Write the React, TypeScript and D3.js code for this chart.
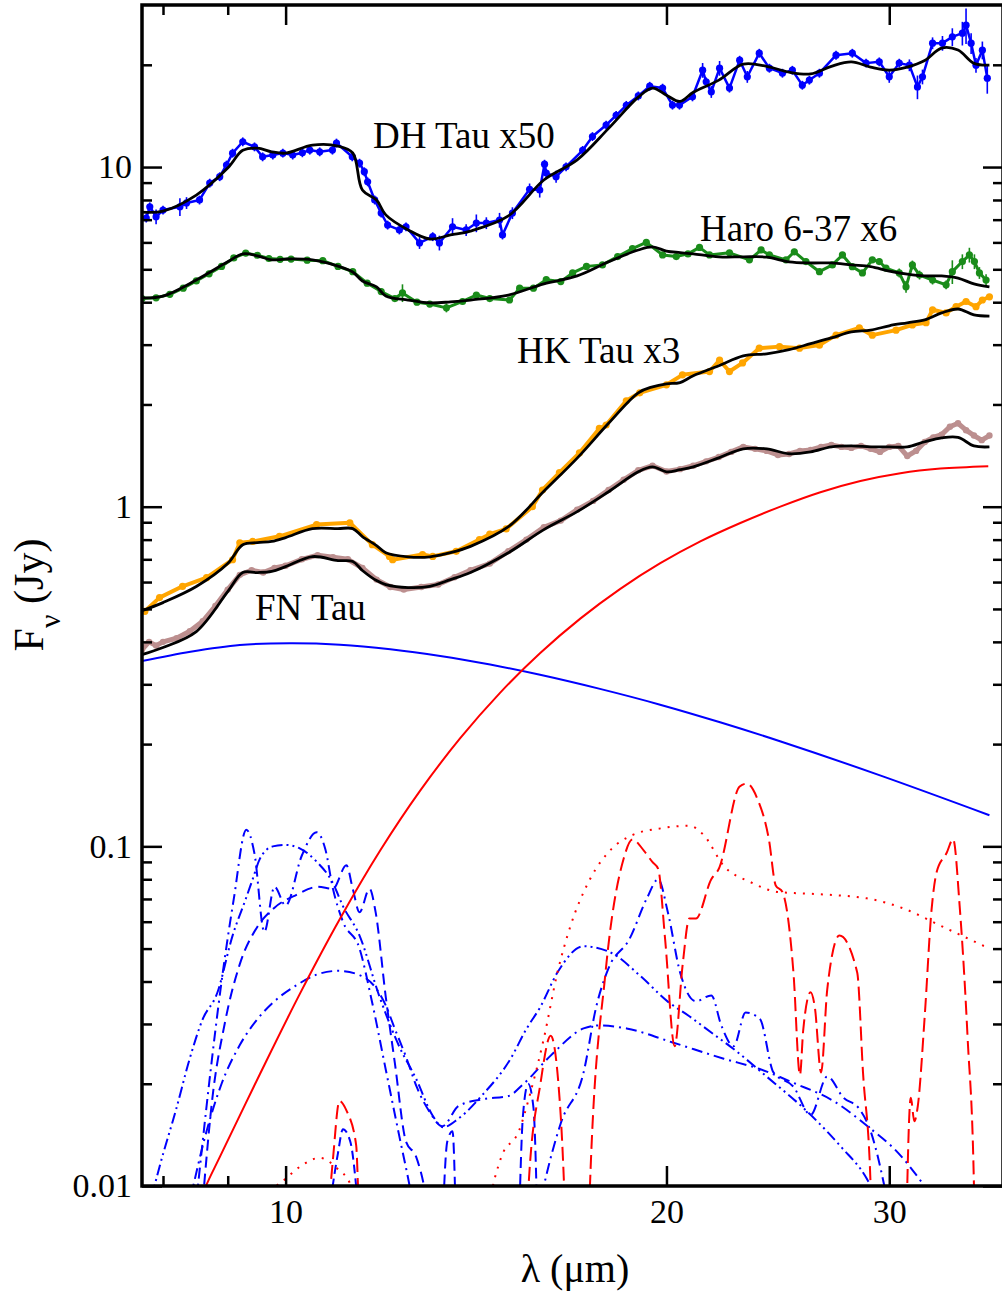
import React, { useRef, useEffect } from 'react'
import * as d3 from 'd3'

// wavelength grid (um) shared by the four model fits
const modelWave = [7.7, 8, 8.5, 9, 9.25, 9.5, 9.75, 10, 10.5, 11, 11.3, 11.5, 11.8, 12, 12.5, 13, 13.5, 14, 15, 16, 17, 18, 19, 19.5, 20, 20.5, 21, 22, 23, 24, 25, 26, 27, 28, 29, 30, 31, 32, 33, 34, 35, 36]

const dhModel = [7.37, 7.42, 8.27, 9.93, 11.2, 11.37, 11.09, 10.99, 11.6, 11.53, 11.0, 8.56, 8.0, 7.23, 6.53, 6.14, 6.31, 6.48, 7.18, 9.16, 10.5, 13.0, 16.06, 17.08, 16.28, 15.6, 16.6, 18.03, 20.09, 19.8, 19.03, 18.8, 19.8, 20.4, 19.7, 19.3, 19.7, 20.6, 22.4, 22.1, 20.2, 19.95]
const haroModel = [4.12, 4.17, 4.65, 5.26, 5.55, 5.48, 5.33, 5.36, 5.33, 5.11, 4.91, 4.62, 4.44, 4.17, 4.06, 3.98, 4.01, 4.06, 4.2, 4.53, 4.78, 5.26, 5.7, 5.82, 5.66, 5.6, 5.55, 5.44, 5.44, 5.43, 5.26, 5.22, 5.22, 5.15, 5.09, 4.94, 4.84, 4.78, 4.78, 4.71, 4.53, 4.44]
const hkModel = [0.494, 0.522, 0.582, 0.68, 0.773, 0.784, 0.79, 0.811, 0.862, 0.862, 0.862, 0.817, 0.768, 0.732, 0.712, 0.712, 0.732, 0.764, 0.873, 1.11, 1.39, 1.76, 2.164, 2.254, 2.3, 2.32, 2.43, 2.6, 2.78, 2.82, 2.9, 3.02, 3.14, 3.27, 3.31, 3.41, 3.48, 3.55, 3.72, 3.82, 3.67, 3.64]
const fnModel = [0.367, 0.385, 0.429, 0.562, 0.64, 0.64, 0.645, 0.666, 0.713, 0.694, 0.69, 0.649, 0.606, 0.59, 0.578, 0.583, 0.61, 0.64, 0.732, 0.856, 0.967, 1.107, 1.267, 1.31, 1.267, 1.285, 1.31, 1.393, 1.481, 1.48, 1.432, 1.45, 1.5, 1.51, 1.5, 1.5, 1.5, 1.553, 1.595, 1.6, 1.51, 1.5]

// observed spectra: [wavelength, flux, fractional error]
const dhObs = [
  [7.76, 7.08, 0.03], [7.81, 7.64, 0.03], [7.9, 7.14, 0.05], [8.0, 7.47, 0.03], [8.25, 7.64, 0.06], [8.35, 7.84, 0.04],
  [8.55, 8.0, 0.03], [8.71, 8.97, 0.03], [8.87, 9.37, 0.03], [8.98, 10.14, 0.03], [9.08, 10.99, 0.03], [9.25, 11.87, 0.03],
  [9.45, 11.47, 0.03], [9.59, 10.72, 0.03], [9.77, 10.85, 0.03], [9.95, 10.99, 0.03], [10.13, 10.85, 0.03], [10.31, 11.02, 0.03],
  [10.45, 11.22, 0.03], [10.64, 11.09, 0.03], [10.89, 11.22, 0.03], [10.97, 11.77, 0.03], [11.29, 10.72, 0.03], [11.44, 10.27, 0.03],
  [11.54, 9.69, 0.03], [11.61, 9.05, 0.03], [11.76, 8.0, 0.03], [11.9, 7.32, 0.03], [12.04, 6.75, 0.03], [12.3, 6.53, 0.03],
  [12.45, 6.67, 0.03], [12.76, 5.98, 0.04], [13.07, 6.24, 0.03], [13.23, 5.98, 0.05], [13.55, 6.67, 0.06], [13.89, 6.53, 0.04],
  [14.15, 6.84, 0.06], [14.41, 6.84, 0.04], [14.76, 6.98, 0.05], [14.84, 6.31, 0.03], [15.11, 7.32, 0.04], [15.59, 8.6, 0.04],
  [15.88, 8.56, 0.05], [16.02, 10.2, 0.03], [16.07, 9.6, 0.03], [16.36, 9.37, 0.04], [16.66, 10.02, 0.03], [17.17, 11.2, 0.03],
  [17.48, 12.3, 0.03], [17.92, 13.3, 0.03], [18.25, 14.2, 0.03], [18.59, 15.2, 0.03], [19.0, 16.2, 0.03], [19.4, 17.3, 0.03],
  [19.86, 17.08, 0.03], [20.22, 15.22, 0.03], [20.48, 15.22, 0.03], [20.97, 16.1, 0.03], [21.36, 19.28, 0.05], [21.5, 17.82, 0.03],
  [21.7, 16.65, 0.04], [22.03, 19.55, 0.05], [22.43, 17.08, 0.03], [22.85, 20.64, 0.03], [23.17, 18.44, 0.04], [23.68, 21.64, 0.03],
  [24.12, 19.55, 0.03], [24.7, 18.9, 0.03], [25.15, 19.28, 0.03], [25.61, 17.42, 0.03], [25.94, 18.03, 0.03], [26.42, 18.9, 0.03],
  [27.23, 21.35, 0.03], [28.05, 21.64, 0.03], [28.76, 20.23, 0.03], [29.46, 20.41, 0.03], [30.0, 18.44, 0.04], [30.55, 20.23, 0.03],
  [31.12, 19.95, 0.04], [31.58, 17.22, 0.08], [31.87, 18.44, 0.05], [32.46, 23.16, 0.04], [33.05, 23.16, 0.05], [33.65, 24.17, 0.06],
  [34.27, 24.78, 0.08], [34.5, 26.16, 0.12], [34.82, 23.16, 0.07], [35.13, 19.95, 0.05], [35.54, 22.09, 0.06], [35.86, 18.27, 0.1]
]
const haroObs = [
  [7.7, 4.1, 0.02], [7.9, 4.12, 0.02], [8.1, 4.22, 0.02], [8.3, 4.4, 0.02], [8.5, 4.62, 0.02], [8.7, 4.85, 0.02],
  [8.9, 5.1, 0.02], [9.1, 5.4, 0.02], [9.3, 5.58, 0.02], [9.5, 5.5, 0.02], [9.7, 5.38, 0.02], [9.9, 5.35, 0.02],
  [10.1, 5.36, 0.02], [10.4, 5.32, 0.02], [10.7, 5.3, 0.02], [11.0, 5.1, 0.02], [11.3, 4.92, 0.02], [11.6, 4.55, 0.02],
  [11.9, 4.3, 0.02], [12.2, 4.1, 0.02], [12.37, 4.26, 0.06], [12.7, 4.0, 0.02], [13.0, 3.95, 0.02], [13.4, 3.85, 0.03],
  [13.8, 4.02, 0.02], [14.15, 4.2, 0.02], [14.5, 4.1, 0.02], [15.03, 4.06, 0.02], [15.31, 4.4, 0.02], [15.7, 4.4, 0.02],
  [16.07, 4.66, 0.02], [16.5, 4.6, 0.02], [16.86, 4.88, 0.02], [17.29, 5.1, 0.02], [17.8, 5.15, 0.02], [18.3, 5.45, 0.02],
  [18.8, 5.75, 0.02], [19.28, 6.0, 0.02], [19.86, 5.51, 0.02], [20.36, 5.45, 0.02], [20.8, 5.55, 0.02], [21.24, 5.8, 0.02],
  [21.63, 5.51, 0.02], [22.43, 5.59, 0.02], [23.26, 5.33, 0.02], [23.76, 5.7, 0.02], [24.12, 5.51, 0.02], [24.86, 5.33, 0.02],
  [25.24, 5.63, 0.02], [25.78, 5.27, 0.02], [26.42, 4.92, 0.02], [27.05, 5.15, 0.02], [27.55, 5.51, 0.02], [28.05, 5.09, 0.02],
  [28.57, 4.88, 0.02], [29.09, 5.33, 0.02], [29.46, 5.27, 0.02], [29.82, 5.04, 0.02], [30.55, 4.88, 0.03], [30.93, 4.44, 0.04],
  [31.29, 5.15, 0.03], [31.7, 4.81, 0.03], [32.46, 4.65, 0.03], [33.27, 4.5, 0.03], [33.65, 4.92, 0.08], [34.27, 5.27, 0.05],
  [34.71, 5.51, 0.05], [35.03, 5.27, 0.05], [35.35, 4.88, 0.04], [35.78, 4.65, 0.04]
]
const hkObs = [
  [7.74, 0.492], [7.95, 0.54], [8.29, 0.583], [8.66, 0.618], [9.08, 0.698], [9.2, 0.783], [9.42, 0.79], [9.89, 0.818],
  [10.58, 0.886], [11.24, 0.897], [11.71, 0.773], [12.08, 0.714], [12.15, 0.698], [12.83, 0.723], [13.07, 0.714], [13.64, 0.739],
  [14.23, 0.8], [14.5, 0.83], [14.94, 0.86], [15.67, 1.0], [15.96, 1.12], [16.46, 1.26], [17.07, 1.44], [17.7, 1.7],
  [17.92, 1.74], [18.59, 2.05], [19.05, 2.164], [20.0, 2.285], [20.59, 2.445], [21.63, 2.5], [22.03, 2.7], [22.43, 2.5],
  [22.97, 2.65], [23.68, 2.93], [24.57, 2.96], [25.48, 2.93], [26.42, 2.99], [27.23, 3.2], [28.41, 3.36], [29.09, 3.2],
  [30.37, 3.31], [31.29, 3.43], [32.08, 3.48], [32.46, 3.8], [33.27, 3.72], [33.88, 3.88], [34.5, 4.02], [35.13, 3.88],
  [35.54, 4.06], [36.0, 4.15]
]
const fnObs = [
  [7.7, 0.38], [7.8, 0.4], [7.9, 0.39], [8.0, 0.4], [8.2, 0.41], [8.4, 0.43], [8.6, 0.46], [8.8, 0.51], [9.0, 0.57],
  [9.2, 0.63], [9.4, 0.65], [9.6, 0.64], [9.8, 0.66], [10.0, 0.67], [10.3, 0.7], [10.6, 0.72], [10.9, 0.71], [11.2, 0.7],
  [11.5, 0.66], [11.8, 0.61], [12.1, 0.58], [12.4, 0.57], [12.8, 0.58], [13.2, 0.59], [13.6, 0.62], [14.0, 0.65], [14.5, 0.68],
  [15.0, 0.74], [15.5, 0.8], [16.0, 0.87], [16.5, 0.91], [17.0, 0.98], [17.5, 1.04], [18.0, 1.12], [18.5, 1.2], [19.0, 1.28],
  [19.5, 1.32], [20.0, 1.27], [20.5, 1.29], [21.0, 1.32], [21.5, 1.36], [22.0, 1.4], [22.5, 1.45], [23.0, 1.5], [23.5, 1.48],
  [24.0, 1.46], [24.5, 1.42], [25.0, 1.43], [25.5, 1.46], [26.0, 1.47], [26.5, 1.5], [27.0, 1.52], [27.5, 1.5], [28.0, 1.49],
  [28.5, 1.51], [29.0, 1.48], [29.5, 1.45], [30.0, 1.5], [30.5, 1.51], [31.0, 1.41], [31.5, 1.46], [32.0, 1.55], [32.5, 1.6],
  [33.0, 1.63], [33.5, 1.72], [34.0, 1.76], [34.5, 1.68], [35.0, 1.62], [35.5, 1.57], [36.0, 1.62]
]

// continua
const blueBB = [[7.7, 0.351], [8.41, 0.374], [9.2, 0.3916], [10.08, 0.3961], [11.04, 0.3924], [12.1, 0.3806], [13.25, 0.3637], [14.51, 0.343], [15.89, 0.32], [17.72, 0.2908], [19.77, 0.2613], [22.05, 0.2319], [24.59, 0.2039], [29.5, 0.1618], [36.0, 0.1235]]
const redBB = [[8.55, 0.0088], [8.651, 0.01], [8.874, 0.0122], [9.546, 0.0214], [10.267, 0.0369], [11.043, 0.0613], [11.878, 0.0972], [12.775, 0.1459], [13.741, 0.2082], [14.779, 0.2836], [15.895, 0.3709], [17.096, 0.4683], [18.388, 0.5731], [19.777, 0.6818], [21.271, 0.7905], [22.878, 0.8954], [24.606, 1.0007], [26.466, 1.1033], [28.465, 1.1906], [30.616, 1.2552], [32.929, 1.295], [35.924, 1.3163]]

// dust components (inner = blue, outer = red)
const blueDashDotA = [[8.4, 0.009], [8.66, 0.0145], [8.9, 0.02], [9.2, 0.026], [9.5, 0.031], [9.8, 0.035], [10.2, 0.039], [10.6, 0.042], [11.0, 0.043], [11.4, 0.042], [11.8, 0.038], [12.0, 0.034], [12.2, 0.029], [12.45, 0.024], [12.7, 0.0195], [13.0, 0.0165], [13.3, 0.015], [13.7, 0.0172], [14.3, 0.018], [15.0, 0.0184], [15.4, 0.0199], [16.2, 0.0242], [17.2, 0.0291], [17.7, 0.0297], [18.6, 0.0291], [20.2, 0.0265], [22.2, 0.0237], [23.7, 0.0221], [25.3, 0.02], [27.1, 0.0178], [28.9, 0.0149], [30.5, 0.0125], [31.8, 0.0103], [32.3, 0.0095]]
const blueDashDotDot = [[7.82, 0.009], [7.95, 0.0114], [8.2, 0.017], [8.39, 0.0234], [8.6, 0.031], [8.83, 0.037], [9.08, 0.0546], [9.3, 0.07], [9.42, 0.0802], [9.54, 0.0917], [9.77, 0.1], [10.0, 0.101], [10.26, 0.0987], [10.58, 0.0902], [10.89, 0.0784], [11.1, 0.0667], [11.44, 0.0546], [11.86, 0.0362], [12.3, 0.0257], [12.68, 0.0207], [13.07, 0.0161], [13.32, 0.0149], [13.7, 0.0158], [14.3, 0.0185], [15.06, 0.0237], [15.5, 0.029], [15.9, 0.0337], [16.4, 0.0425], [17.2, 0.0508], [18.07, 0.0487], [19.05, 0.0417], [20.05, 0.0349], [20.85, 0.0316], [21.7, 0.0283], [22.6, 0.0253], [24.0, 0.021], [26.0, 0.0162], [27.5, 0.013], [28.8, 0.0105], [29.2, 0.0095]]
const blueDashDotB = [[8.5, 0.009], [8.7, 0.02], [8.9, 0.04], [9.1, 0.07], [9.31, 0.112], [9.45, 0.095], [9.62, 0.056], [9.8, 0.076], [10.0, 0.067], [10.3, 0.094], [10.58, 0.11], [10.75, 0.098], [10.9, 0.075], [11.1, 0.06], [11.44, 0.05], [11.7, 0.035], [12.0, 0.022], [12.3, 0.014], [12.5, 0.0105], [12.6, 0.009]]
const blueDashed = [[8.6, 0.009], [8.75, 0.018], [8.95, 0.03], [9.2, 0.045], [9.5, 0.058], [9.8, 0.066], [10.2, 0.072], [10.6, 0.076], [10.9, 0.075], [11.17, 0.088], [11.3, 0.075], [11.44, 0.064], [11.65, 0.075], [11.78, 0.064], [12.0, 0.036], [12.2, 0.023], [12.45, 0.0135], [12.68, 0.0122], [12.9, 0.0095], [13.2, 0.005], [13.42, 0.0135], [13.55, 0.0145], [13.7, 0.005], [15.2, 0.005], [15.4, 0.016], [15.55, 0.02], [15.7, 0.017], [15.85, 0.005]]
const blueDashDotC = [[15.8, 0.008], [16.0, 0.01], [16.5, 0.0153], [17.2, 0.0216], [17.6, 0.0337], [18.0, 0.0438], [18.7, 0.0534], [19.3, 0.0703], [19.7, 0.08], [20.05, 0.064], [20.5, 0.0426], [21.1, 0.035], [21.7, 0.0364], [22.1, 0.0297], [22.6, 0.0258], [23.1, 0.0324], [23.7, 0.0311], [24.3, 0.0216], [25.2, 0.0196], [26.0, 0.0162], [26.8, 0.021], [27.6, 0.0182], [28.4, 0.0169], [29.0, 0.0145], [29.7, 0.0102], [29.9, 0.009]]
const blueDashedSmall = [[10.85, 0.009], [11.0, 0.0125], [11.1, 0.0147], [11.25, 0.0135], [11.4, 0.009]]
const redDotted = [[9.6, 0.008], [9.8, 0.0098], [10.0, 0.0105], [10.3, 0.0115], [10.64, 0.0121], [11.0, 0.0112], [11.24, 0.0102], [11.4, 0.008], [11.6, 0.005], [14.2, 0.005], [14.5, 0.009], [14.8, 0.0121], [15.3, 0.0146], [15.6, 0.0186], [16.0, 0.0272], [16.4, 0.0425], [16.8, 0.0585], [17.4, 0.08], [18.1, 0.0983], [18.8, 0.108], [19.8, 0.113], [20.85, 0.115], [21.4, 0.108], [22.2, 0.0876], [23.3, 0.0785], [24.5, 0.0734], [26.2, 0.0724], [28.8, 0.0703], [30.8, 0.0656], [32.9, 0.0585], [36, 0.05]]
const redDashed = [[10.8, 0.008], [10.9, 0.012], [11.03, 0.0178], [11.17, 0.0167], [11.37, 0.0132], [11.42, 0.009], [11.5, 0.005], [15.45, 0.005], [15.56, 0.01], [15.9, 0.02], [16.2, 0.0277], [16.4, 0.0216], [16.6, 0.01], [16.7, 0.005], [17.3, 0.005], [17.4, 0.01], [17.9, 0.0425], [18.5, 0.0919], [18.8, 0.1047], [19.2, 0.097], [19.5, 0.0898], [19.7, 0.0859], [19.95, 0.0534], [20.3, 0.0258], [20.6, 0.045], [20.85, 0.0613], [21.1, 0.0613], [21.7, 0.08], [22.0, 0.0859], [22.85, 0.15], [23.15, 0.153], [23.6, 0.138], [24.1, 0.1047], [24.4, 0.0767], [24.7, 0.0734], [25.2, 0.0425], [25.5, 0.0212], [25.65, 0.0287], [26.0, 0.0372], [26.2, 0.0336], [26.5, 0.0216], [26.8, 0.038], [27.4, 0.0546], [28.3, 0.0425], [28.6, 0.0216], [29.0, 0.01], [29.1, 0.005], [30.9, 0.005], [31.0, 0.01], [31.2, 0.0182], [31.4, 0.0155], [31.6, 0.0172], [32.0, 0.0316], [32.4, 0.065], [32.7, 0.0839], [33.3, 0.0956], [33.7, 0.105], [34.1, 0.0668], [34.6, 0.0272], [35.0, 0.01], [35.1, 0.005]]

const yMajor = [0.01, 0.1, 1, 10]
const yMinor = [0.02, 0.03, 0.04, 0.05, 0.06, 0.07, 0.08, 0.09, 0.2, 0.3, 0.4, 0.5, 0.6, 0.7, 0.8, 0.9, 2, 3, 4, 5, 6, 7, 8, 9, 20]
const xMajor = [10, 20, 30]
const xMinor = [8, 9]

const serif = '"Liberation Serif", "Times New Roman", serif'

const App = () => {
  const svgRef = useRef(null)

  useEffect(() => {
    const svg = d3.select(svgRef.current)
    svg.selectAll('*').remove()

    const left = 142
    const right = 1003
    const top = 5
    const bottom = 1186

    const x = d3.scaleLog().domain([7.7, 36.9]).range([left, right])
    const y = d3.scaleLog().domain([0.01, 30]).range([bottom, top])

    svg
      .append('defs')
      .append('clipPath')
      .attr('id', 'plot-area')
      .append('rect')
      .attr('x', left)
      .attr('y', top)
      .attr('width', right - left)
      .attr('height', bottom - top)

    const plot = svg.append('g').attr('clip-path', 'url(#plot-area)')

    const mono = d3
      .line()
      .x(d => x(d[0]))
      .y(d => y(d[1]))
      .curve(d3.curveMonotoneX)
    const smooth = d3
      .line()
      .x(d => x(d[0]))
      .y(d => y(d[1]))
      .curve(d3.curveCatmullRom.alpha(0.5))
    const straight = d3
      .line()
      .x(d => x(d[0]))
      .y(d => y(d[1]))

    const zip = (w, v) => w.map((l, i) => [l, v[i]])

    // dust components
    const comps = [
      { data: blueDashDotA, color: '#0000ff', dash: '11,5,2,5' },
      { data: blueDashDotDot, color: '#0000ff', dash: '11,4,2,4,2,4' },
      { data: blueDashDotB, color: '#0000ff', dash: '11,5,2,5' },
      { data: blueDashed, color: '#0000ff', dash: '11,6' },
      { data: blueDashDotC, color: '#0000ff', dash: '11,5,2,5' },
      { data: blueDashedSmall, color: '#0000ff', dash: '9,5' },
      { data: redDotted, color: '#ff0000', dash: '2,7' },
      { data: redDashed, color: '#ff0000', dash: '14,6' }
    ]
    comps.forEach(c => {
      plot
        .append('path')
        .attr('d', mono(c.data))
        .attr('fill', 'none')
        .attr('stroke', c.color)
        .attr('stroke-width', 2)
        .attr('stroke-dasharray', c.dash)
    })

    // continua
    plot
      .append('path')
      .attr('d', smooth(blueBB))
      .attr('fill', 'none')
      .attr('stroke', '#0000ff')
      .attr('stroke-width', 2)
    plot
      .append('path')
      .attr('d', smooth(redBB))
      .attr('fill', 'none')
      .attr('stroke', '#ff0000')
      .attr('stroke-width', 2)

    // observed spectra
    const spectra = [
      { data: fnObs, color: '#bc8f8f', r: 3.2, band: 5 },
      { data: hkObs, color: '#ffa500', r: 3.6, band: 4 },
      { data: haroObs, color: '#1a8c1a', r: 3.6, band: 3 },
      { data: dhObs, color: '#0000ff', r: 3.6, band: 2.5 }
    ]
    spectra.forEach(s => {
      plot
        .append('path')
        .attr('d', straight(s.data))
        .attr('fill', 'none')
        .attr('stroke', s.color)
        .attr('stroke-width', s.band)
        .attr('stroke-linejoin', 'round')
      plot
        .append('g')
        .selectAll('line')
        .data(s.data.filter(d => d[2]))
        .join('line')
        .attr('x1', d => x(d[0]))
        .attr('x2', d => x(d[0]))
        .attr('y1', d => y(d[1] * (1 + d[2])))
        .attr('y2', d => y(d[1] * (1 - d[2])))
        .attr('stroke', s.color)
        .attr('stroke-width', 1.6)
      plot
        .append('g')
        .selectAll('circle')
        .data(s.data)
        .join('circle')
        .attr('cx', d => x(d[0]))
        .attr('cy', d => y(d[1]))
        .attr('r', s.r)
        .attr('fill', s.color)
    })

    // model fits
    ;[dhModel, haroModel, hkModel, fnModel].forEach(m => {
      plot
        .append('path')
        .attr('d', smooth(zip(modelWave, m)))
        .attr('fill', 'none')
        .attr('stroke', '#000')
        .attr('stroke-width', 2.8)
        .attr('stroke-linejoin', 'round')
    })

    // labels
    const labels = [
      { text: 'DH Tau x50', x: 373, y: 148 },
      { text: 'Haro 6-37 x6', x: 700, y: 241 },
      { text: 'HK Tau x3', x: 517, y: 363 },
      { text: 'FN Tau', x: 255, y: 620 }
    ]
    svg
      .append('g')
      .selectAll('text')
      .data(labels)
      .join('text')
      .attr('x', d => d.x)
      .attr('y', d => d.y)
      .style('font-family', serif)
      .attr('font-size', 37)
      .attr('fill', '#000')
      .text(d => d.text)

    // axes
    const styleAxis = g => {
      g.attr('font-family', null)
      g.select('.domain').remove()
      g.selectAll('.tick line').attr('stroke', '#000').attr('stroke-width', 2.5)
      g.selectAll('.tick text')
        .style('font-family', serif)
        .attr('font-size', 34)
        .attr('fill', '#000')
    }

    svg
      .append('g')
      .attr('transform', `translate(${left},0)`)
      .call(d3.axisLeft(y).tickValues(yMajor).tickSize(-20).tickPadding(10).tickFormat(d => String(d)))
      .call(styleAxis)
    svg
      .append('g')
      .attr('transform', `translate(${left},0)`)
      .call(d3.axisLeft(y).tickValues(yMinor).tickSize(-10).tickFormat(() => ''))
      .call(styleAxis)
    svg
      .append('g')
      .attr('transform', `translate(${right},0)`)
      .call(d3.axisRight(y).tickValues(yMajor).tickSize(-20).tickFormat(() => ''))
      .call(styleAxis)
    svg
      .append('g')
      .attr('transform', `translate(${right},0)`)
      .call(d3.axisRight(y).tickValues(yMinor).tickSize(-10).tickFormat(() => ''))
      .call(styleAxis)
    svg
      .append('g')
      .attr('transform', `translate(0,${bottom})`)
      .call(d3.axisBottom(x).tickValues(xMajor).tickSize(-20).tickPadding(13).tickFormat(d => String(d)))
      .call(styleAxis)
    svg
      .append('g')
      .attr('transform', `translate(0,${bottom})`)
      .call(d3.axisBottom(x).tickValues(xMinor).tickSize(-10).tickFormat(() => ''))
      .call(styleAxis)
    svg
      .append('g')
      .attr('transform', `translate(0,${top})`)
      .call(d3.axisTop(x).tickValues(xMajor).tickSize(-20).tickFormat(() => ''))
      .call(styleAxis)
    svg
      .append('g')
      .attr('transform', `translate(0,${top})`)
      .call(d3.axisTop(x).tickValues(xMinor).tickSize(-10).tickFormat(() => ''))
      .call(styleAxis)

    // frame
    svg
      .append('rect')
      .attr('x', left)
      .attr('y', top)
      .attr('width', right - left)
      .attr('height', bottom - top)
      .attr('fill', 'none')
      .attr('stroke', '#000')
      .attr('stroke-width', 3.5)

    // axis titles
    svg
      .append('text')
      .attr('x', 575)
      .attr('y', 1282)
      .attr('text-anchor', 'middle')
      .style('font-family', serif)
      .attr('font-size', 40)
      .text('λ (μm)')

    const yTitle = svg
      .append('text')
      .attr('transform', 'translate(43,595) rotate(-90)')
      .attr('text-anchor', 'middle')
      .style('font-family', serif)
      .attr('font-size', 42)
    yTitle.append('tspan').text('F')
    yTitle.append('tspan').attr('font-size', 30).attr('dy', 17).text('ν')
    yTitle.append('tspan').attr('dy', -17).text(' (Jy)')
  }, [])

  return (
    <svg
      ref={svgRef}
      width={1002}
      height={1295}
      viewBox="0 0 1002 1295"
      style={{ position: 'absolute', left: 0, top: 0, background: '#fff' }}
    />
  )
}

export default App
